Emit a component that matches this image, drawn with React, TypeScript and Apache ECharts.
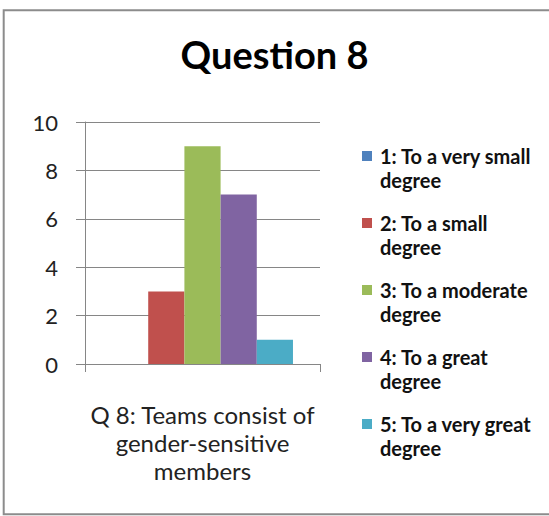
import React, { useEffect, useRef } from "react";
import * as echarts from "echarts";

const title = "Question 8";
const categories = ["Q 8: Teams consist of\ngender-sensitive\nmembers"];
const seriesNames = [
  "1: To a very small\ndegree",
  "2: To a small\ndegree",
  "3: To a moderate\ndegree",
  "4: To a great\ndegree",
  "5: To a very great\ndegree",
];
const seriesValues = [[0], [3], [9], [7], [1]];
const seriesColors = ["#4F81BD", "#C0504D", "#9BBB59", "#8064A2", "#4BACC6"];
const yMin = 0;
const yMax = 10;
const yInterval = 2;

const FONT = "Lato, 'Open Sans', sans-serif";

export default function App() {
  const ref = useRef<HTMLDivElement>(null);
  useEffect(() => {
    if (!ref.current) return;
    const chart = echarts.init(ref.current, null, { renderer: "svg" });
    const option = {
      animation: false,
      backgroundColor: "#ffffff",
      title: {
        text: title,
        left: "center",
        top: 35,
        padding: 0,
        textStyle: { fontFamily: FONT, fontSize: 38, fontWeight: "bold", color: "#000" },
      },
      graphic: [
        {
          type: "rect",
          shape: { x: 3.7, y: 10.2, width: 600, height: 504 },
          style: { fill: "none", stroke: "#8c8c8c", lineWidth: 2 },
          silent: true,
          z: 100,
        },
      ],
      grid: { left: 85, top: 122, width: 235, bottom: 152, containLabel: false },
      legend: {
        orient: "vertical",
        left: 362,
        top: 120,
        padding: 0,
        itemWidth: 10,
        itemHeight: 10,
        itemGap: -5,
        icon: "rect",
        data: seriesNames,
        formatter: (name: string) => `{t|${name}}`,
        textStyle: {
          fontFamily: FONT,
          fontSize: 20,
          fontWeight: "bold",
          color: "#111",
          lineHeight: 24,
          padding: [24, 0, 0, 3],
          rich: {
            t: {
              fontFamily: FONT,
              fontSize: 20,
              fontWeight: "bold",
              color: "#111",
              lineHeight: 24,
            },
          },
        },
      },
      xAxis: {
        type: "category",
        data: categories,
        axisLine: { show: true, lineStyle: { color: "#868686", width: 1 } },
        axisTick: { show: true, length: 8, lineStyle: { color: "#868686" } },
        axisLabel: {
          margin: 36,
          fontFamily: FONT,
          fontSize: 24,
          lineHeight: 28,
          color: "#222",
          interval: 0,
        },
      },
      yAxis: {
        type: "value",
        min: yMin,
        max: yMax,
        interval: yInterval,
        axisLine: { show: true, lineStyle: { color: "#868686", width: 1 } },
        axisTick: { show: true, length: 9, inside: false, lineStyle: { color: "#868686" } },
        splitLine: { show: true, lineStyle: { color: "#868686", width: 1 } },
        axisLabel: { margin: 27, fontFamily: FONT, fontSize: 22, color: "#222" },
      },
      series: seriesNames.map((name, i) => ({
        name,
        type: "bar",
        data: seriesValues[i],
        itemStyle: { color: seriesColors[i] },
        barGap: "0%",
        barCategoryGap: "23%",
      })),
    };
    chart.setOption(option as any);
    return () => chart.dispose();
  }, []);
  return (
    <div
      ref={ref}
      style={{ position: "absolute", left: 0, top: 0, width: 549, height: 516 }}
    />
  );
}
